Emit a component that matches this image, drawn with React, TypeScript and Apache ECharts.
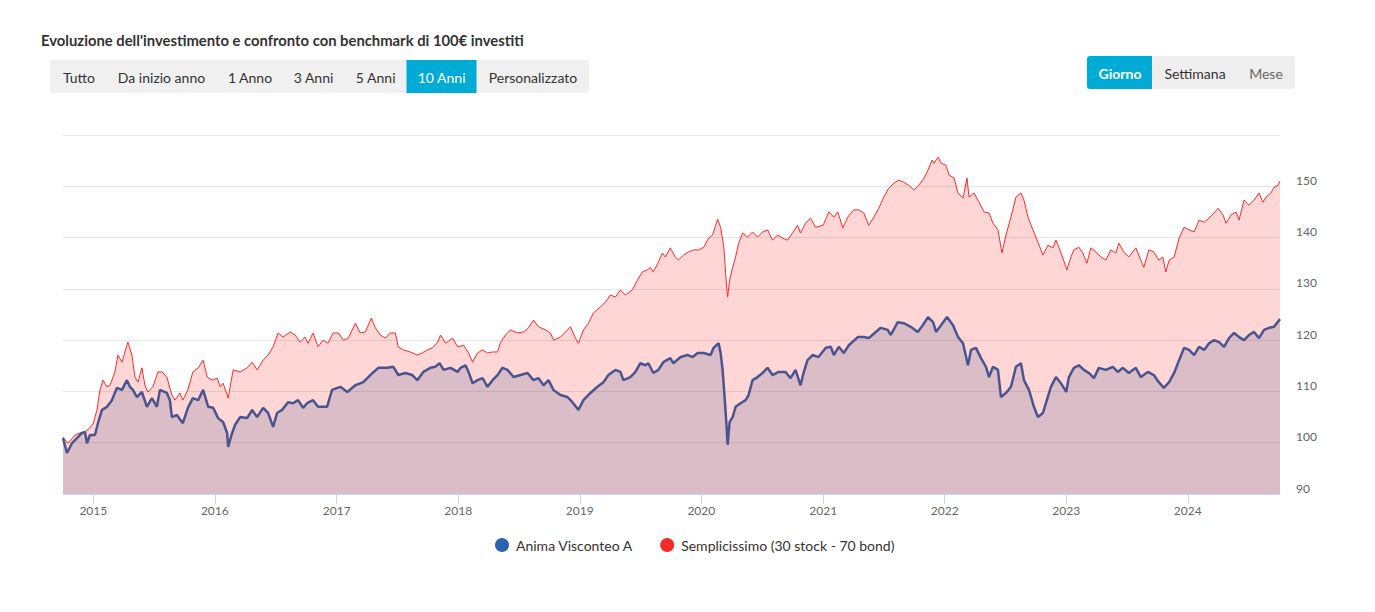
import React, { useEffect, useRef } from "react";
import * as echarts from "echarts";

const yearTicks = ["2015", "2016", "2017", "2018", "2019", "2020", "2021", "2022", "2023", "2024"];
const yTickValues = [90, 100, 110, 120, 130, 140, 150];

const rangeButtons = ["Tutto", "Da inizio anno", "1 Anno", "3 Anni", "5 Anni", "10 Anni", "Personalizzato"];
const activeRange = "10 Anni";
const periodButtons = ["Giorno", "Settimana", "Mese"];
const activePeriod = "Giorno";

const seriesNames = ["Anima Visconteo A", "Semplicissimo (30 stock - 70 bond)"];

const animaData: [string, number][] = [
  ["2014-10-02", 100.9], ["2014-10-14", 98.0], ["2014-10-29", 99.9], ["2014-11-13", 100.9], ["2014-11-28", 101.9],
  ["2014-12-07", 102.1], ["2014-12-13", 99.9], ["2014-12-22", 101.5],
  ["2015-01-06", 101.5], ["2015-01-15", 103.8], ["2015-01-27", 106.4], ["2015-02-11", 107.0], ["2015-02-26", 108.3],
  ["2015-03-13", 110.7], ["2015-03-28", 110.3], ["2015-04-12", 112.2], ["2015-04-21", 110.9], ["2015-04-30", 110.3],
  ["2015-05-12", 108.9], ["2015-05-27", 109.9], ["2015-06-11", 107.0], ["2015-06-26", 108.7], ["2015-07-11", 107.0],
  ["2015-07-20", 110.3], ["2015-08-10", 109.7], ["2015-08-19", 108.3], ["2015-08-25", 105.0], ["2015-09-09", 105.4],
  ["2015-09-27", 103.8], ["2015-10-12", 106.8], ["2015-10-27", 108.7], ["2015-11-12", 108.3], ["2015-11-27", 110.3],
  ["2015-12-12", 107.0], ["2015-12-27", 106.8],
  ["2016-01-11", 104.8], ["2016-01-26", 104.0], ["2016-02-07", 101.9], ["2016-02-10", 99.2], ["2016-02-22", 101.9],
  ["2016-03-02", 103.5], ["2016-03-17", 105.0], ["2016-04-07", 104.8], ["2016-04-22", 106.4], ["2016-05-07", 105.0],
  ["2016-05-25", 106.8], ["2016-06-09", 105.8], ["2016-06-24", 103.1], ["2016-07-06", 105.8], ["2016-07-21", 106.4],
  ["2016-08-08", 107.9], ["2016-08-23", 107.7], ["2016-09-07", 108.3], ["2016-09-22", 106.8], ["2016-10-04", 107.7],
  ["2016-10-22", 108.3], ["2016-11-06", 107.0], ["2016-12-03", 107.0], ["2016-12-18", 110.3],
  ["2017-01-12", 110.9], ["2017-02-02", 109.9], ["2017-02-26", 111.2], ["2017-03-22", 111.8], ["2017-04-12", 113.2],
  ["2017-05-06", 114.6], ["2017-06-02", 114.6], ["2017-06-20", 114.8], ["2017-07-05", 113.2], ["2017-07-26", 113.6],
  ["2017-08-16", 113.2], ["2017-08-31", 112.2], ["2017-09-18", 113.8], ["2017-10-09", 114.6], ["2017-10-24", 114.8],
  ["2017-11-06", 115.5], ["2017-11-18", 114.2], ["2017-12-09", 114.6], ["2017-12-30", 113.8],
  ["2018-01-08", 114.6], ["2018-01-23", 115.1], ["2018-02-01", 113.8], ["2018-02-13", 111.6], ["2018-02-28", 112.2],
  ["2018-03-15", 112.6], ["2018-03-30", 110.9], ["2018-04-14", 112.2], ["2018-04-29", 113.2], ["2018-05-14", 114.6],
  ["2018-05-29", 114.2], ["2018-06-16", 112.8], ["2018-07-07", 113.2], ["2018-07-28", 113.6], ["2018-08-15", 112.2],
  ["2018-08-30", 112.6], ["2018-09-14", 111.2], ["2018-09-29", 112.2], ["2018-10-14", 110.3], ["2018-11-04", 109.3],
  ["2018-11-25", 108.9], ["2018-12-10", 107.9], ["2018-12-28", 106.4],
  ["2019-01-12", 108.3], ["2019-02-02", 109.7], ["2019-02-23", 110.9], ["2019-03-13", 111.8], ["2019-03-28", 113.2],
  ["2019-04-18", 114.2], ["2019-05-03", 113.8], ["2019-05-12", 112.2], ["2019-06-02", 112.8], ["2019-06-17", 113.8],
  ["2019-07-02", 115.5], ["2019-07-17", 115.1], ["2019-07-26", 115.5], ["2019-08-10", 113.6], ["2019-08-25", 114.2],
  ["2019-09-09", 115.7], ["2019-09-30", 116.5], ["2019-10-09", 115.5], ["2019-10-31", 116.7], ["2019-11-21", 117.1],
  ["2019-12-06", 116.7], ["2019-12-21", 117.5],
  ["2020-01-08", 117.5], ["2020-01-29", 117.1], ["2020-02-07", 118.5], ["2020-02-22", 119.4], ["2020-02-28", 117.5],
  ["2020-03-05", 114.2], ["2020-03-11", 108.9], ["2020-03-17", 103.1], ["2020-03-20", 99.6], ["2020-03-26", 104.0],
  ["2020-04-04", 105.0], ["2020-04-13", 107.0], ["2020-04-28", 107.7], ["2020-05-13", 108.3], ["2020-05-22", 109.3],
  ["2020-06-03", 112.2], ["2020-06-18", 112.8], ["2020-07-03", 113.6], ["2020-07-18", 114.6], ["2020-08-02", 113.2],
  ["2020-08-20", 113.8], ["2020-09-10", 113.8], ["2020-09-25", 112.6], ["2020-10-10", 114.2], ["2020-10-25", 111.2],
  ["2020-11-03", 113.6], ["2020-11-15", 116.1], ["2020-11-30", 117.1], ["2020-12-18", 116.7],
  ["2021-01-09", 118.5], ["2021-01-24", 118.7], ["2021-02-02", 117.1], ["2021-02-17", 118.7], ["2021-03-04", 117.5],
  ["2021-03-19", 119.0], ["2021-04-15", 120.6], ["2021-05-03", 120.6], ["2021-05-18", 120.4], ["2021-06-08", 121.6],
  ["2021-06-23", 122.4], ["2021-07-14", 122.0], ["2021-07-23", 121.0], ["2021-08-13", 123.5], ["2021-08-31", 123.3],
  ["2021-09-21", 122.6], ["2021-10-12", 121.6], ["2021-10-27", 122.9], ["2021-11-12", 124.5], ["2021-11-27", 123.5],
  ["2021-12-06", 121.6], ["2021-12-21", 122.9],
  ["2022-01-08", 124.5], ["2022-01-26", 122.9], ["2022-02-10", 120.6], ["2022-02-25", 119.4], ["2022-03-12", 115.1],
  ["2022-03-21", 118.1], ["2022-04-05", 118.5], ["2022-04-20", 116.5], ["2022-05-05", 114.8], ["2022-05-14", 112.8],
  ["2022-05-26", 114.8], ["2022-06-10", 114.2], ["2022-06-19", 108.9], ["2022-07-04", 109.7], ["2022-07-19", 110.9],
  ["2022-08-03", 114.8], ["2022-08-18", 115.5], ["2022-08-27", 112.2], ["2022-09-11", 110.3], ["2022-09-26", 107.0],
  ["2022-10-08", 105.0], ["2022-10-23", 105.8], ["2022-11-01", 107.7], ["2022-11-16", 110.9], ["2022-12-01", 112.8],
  ["2022-12-16", 111.6],
  ["2023-01-01", 109.9], ["2023-01-09", 112.8], ["2023-01-24", 114.6], ["2023-02-08", 115.1], ["2023-02-23", 114.2],
  ["2023-03-10", 113.6], ["2023-03-25", 112.6], ["2023-04-09", 114.6], ["2023-04-30", 114.2], ["2023-05-21", 114.8],
  ["2023-06-05", 113.8], ["2023-06-20", 114.6], ["2023-07-08", 113.6], ["2023-07-29", 114.6], ["2023-08-13", 112.8],
  ["2023-09-03", 113.8], ["2023-09-21", 113.2], ["2023-10-06", 111.8], ["2023-10-21", 110.7], ["2023-11-06", 111.8],
  ["2023-11-21", 113.6], ["2023-12-06", 116.1], ["2023-12-21", 118.5],
  ["2024-01-05", 118.1], ["2024-01-20", 117.1], ["2024-02-04", 118.7], ["2024-02-19", 118.1], ["2024-03-05", 119.4],
  ["2024-03-20", 120.0], ["2024-04-04", 119.6], ["2024-04-19", 118.7], ["2024-05-04", 120.4], ["2024-05-19", 121.4],
  ["2024-06-03", 120.6], ["2024-06-18", 120.0], ["2024-07-03", 121.0], ["2024-07-18", 121.6], ["2024-08-02", 120.4],
  ["2024-08-17", 122.0], ["2024-09-01", 122.4], ["2024-09-16", 122.6], ["2024-10-04", 124.1],
];

const semplicissimoData: [string, number][] = [
  ["2014-10-02", 101.1], ["2014-10-17", 99.9], ["2014-11-07", 101.5], ["2014-11-22", 101.9], ["2014-12-07", 102.1],
  ["2014-12-22", 102.9],
  ["2015-01-01", 103.8], ["2015-01-12", 106.4], ["2015-01-21", 110.3], ["2015-01-30", 112.2], ["2015-02-11", 110.9],
  ["2015-02-20", 111.2], ["2015-03-07", 113.8], ["2015-03-16", 117.1], ["2015-03-28", 115.7], ["2015-04-12", 119.0],
  ["2015-04-15", 119.6], ["2015-04-27", 117.1], ["2015-05-06", 112.8], ["2015-05-15", 111.8], ["2015-05-27", 114.6],
  ["2015-06-05", 111.2], ["2015-06-14", 109.9], ["2015-06-29", 110.9], ["2015-07-14", 113.8], ["2015-07-26", 113.8],
  ["2015-08-10", 112.8], ["2015-08-25", 109.3], ["2015-09-03", 108.3], ["2015-09-18", 109.7], ["2015-09-27", 108.3],
  ["2015-10-12", 110.3], ["2015-10-27", 113.8], ["2015-11-12", 114.6], ["2015-11-27", 116.1], ["2015-12-09", 112.8],
  ["2015-12-24", 112.2],
  ["2016-01-08", 112.6], ["2016-01-17", 110.9], ["2016-01-26", 111.6], ["2016-02-10", 108.7], ["2016-02-25", 114.2],
  ["2016-03-17", 113.8], ["2016-04-07", 114.6], ["2016-04-22", 115.7], ["2016-05-07", 114.2], ["2016-05-25", 116.1],
  ["2016-06-09", 117.1], ["2016-06-24", 118.7], ["2016-07-09", 121.4], ["2016-07-24", 120.6], ["2016-08-14", 121.6],
  ["2016-08-29", 121.0], ["2016-09-13", 119.6], ["2016-09-28", 120.6], ["2016-10-07", 119.4], ["2016-10-22", 121.4],
  ["2016-11-06", 118.7], ["2016-11-21", 120.0], ["2016-12-06", 119.4], ["2016-12-21", 121.4],
  ["2017-01-06", 121.4], ["2017-01-21", 120.0], ["2017-02-05", 120.4], ["2017-02-26", 123.3], ["2017-03-13", 121.4],
  ["2017-03-28", 121.6], ["2017-04-15", 124.3], ["2017-04-27", 122.4], ["2017-05-12", 121.0], ["2017-05-27", 120.4],
  ["2017-06-11", 121.4], ["2017-06-26", 121.4], ["2017-07-05", 118.7], ["2017-07-20", 118.1], ["2017-08-10", 117.7],
  ["2017-08-31", 117.1], ["2017-09-15", 117.5], ["2017-09-30", 118.1], ["2017-10-15", 118.5], ["2017-10-31", 119.6],
  ["2017-11-09", 121.0], ["2017-11-24", 119.4], ["2017-12-15", 120.4], ["2017-12-30", 118.7],
  ["2018-01-17", 119.0], ["2018-02-01", 117.5], ["2018-02-13", 115.7], ["2018-02-28", 117.5], ["2018-03-15", 118.1],
  ["2018-03-30", 117.5], ["2018-04-14", 117.7], ["2018-04-29", 117.7], ["2018-05-08", 119.6], ["2018-05-23", 121.0],
  ["2018-06-07", 122.0], ["2018-06-28", 121.4], ["2018-07-16", 121.6], ["2018-07-31", 122.4], ["2018-08-15", 123.9],
  ["2018-08-30", 122.6], ["2018-09-20", 122.0], ["2018-10-05", 121.4], ["2018-10-14", 120.0], ["2018-11-04", 120.6],
  ["2018-11-19", 121.6], ["2018-12-04", 122.6], ["2018-12-19", 120.4], ["2018-12-28", 119.4],
  ["2019-01-12", 122.0], ["2019-01-27", 123.3], ["2019-02-11", 125.3], ["2019-03-04", 126.5], ["2019-03-19", 127.4],
  ["2019-04-03", 128.8], ["2019-04-18", 128.4], ["2019-05-03", 129.8], ["2019-05-18", 128.8], ["2019-06-08", 129.8],
  ["2019-06-23", 131.7], ["2019-07-08", 133.3], ["2019-07-23", 133.7], ["2019-08-01", 134.2], ["2019-08-10", 133.3],
  ["2019-08-25", 135.2], ["2019-09-06", 137.0], ["2019-09-15", 136.2], ["2019-09-30", 138.0], ["2019-10-15", 136.2],
  ["2019-10-24", 135.6], ["2019-11-09", 136.6], ["2019-11-24", 137.2], ["2019-12-09", 137.6], ["2019-12-24", 137.6],
  ["2020-01-08", 138.1], ["2020-01-23", 139.9], ["2020-02-04", 140.5], ["2020-02-19", 143.6], ["2020-02-28", 142.0],
  ["2020-03-08", 138.5], ["2020-03-11", 136.0], ["2020-03-17", 130.4], ["2020-03-20", 128.4], ["2020-03-26", 131.7],
  ["2020-04-04", 134.2], ["2020-04-13", 136.2], ["2020-04-22", 138.9], ["2020-05-04", 140.9], ["2020-05-19", 140.1],
  ["2020-06-03", 141.1], ["2020-06-18", 140.1], ["2020-07-03", 141.1], ["2020-07-18", 141.5], ["2020-08-02", 139.5],
  ["2020-08-17", 140.5], ["2020-09-01", 139.9], ["2020-09-16", 139.5], ["2020-10-01", 140.9], ["2020-10-16", 142.4],
  ["2020-10-25", 140.9], ["2020-11-09", 142.8], ["2020-11-24", 143.8], ["2020-12-09", 142.0],
  ["2021-01-01", 142.4], ["2021-01-18", 145.0], ["2021-02-02", 144.0], ["2021-02-14", 145.0], ["2021-03-01", 141.9],
  ["2021-03-16", 144.0], ["2021-04-03", 145.4], ["2021-04-18", 145.4], ["2021-05-03", 144.8], ["2021-05-18", 142.4],
  ["2021-06-02", 144.0], ["2021-06-17", 145.7], ["2021-07-02", 147.9], ["2021-07-17", 149.6], ["2021-08-01", 150.6],
  ["2021-08-16", 151.2], ["2021-08-31", 150.8], ["2021-09-15", 150.2], ["2021-09-30", 149.3], ["2021-10-15", 150.2],
  ["2021-10-31", 151.6], ["2021-11-12", 153.2], ["2021-11-24", 155.1], ["2021-11-30", 154.5], ["2021-12-12", 155.7],
  ["2021-12-21", 154.5],
  ["2022-01-05", 154.1], ["2022-01-14", 152.2], ["2022-01-29", 151.6], ["2022-02-10", 148.7], ["2022-02-25", 147.7],
  ["2022-03-09", 151.6], ["2022-03-15", 147.9], ["2022-03-30", 148.7], ["2022-04-14", 146.9], ["2022-04-29", 145.0],
  ["2022-05-14", 144.8], ["2022-05-26", 142.8], ["2022-06-10", 141.5], ["2022-06-22", 137.0], ["2022-07-04", 140.5],
  ["2022-07-19", 144.0], ["2022-08-03", 147.9], ["2022-08-18", 148.7], ["2022-08-27", 147.3], ["2022-09-08", 144.0],
  ["2022-09-23", 141.5], ["2022-10-08", 139.1], ["2022-10-23", 136.6], ["2022-11-07", 138.5], ["2022-11-22", 138.0],
  ["2022-12-01", 139.5], ["2022-12-10", 138.1], ["2022-12-22", 136.0],
  ["2023-01-03", 133.7], ["2023-01-15", 136.2], ["2023-01-24", 137.6], ["2023-02-08", 138.1], ["2023-02-20", 137.0],
  ["2023-03-04", 135.0], ["2023-03-16", 138.0], ["2023-03-31", 137.2], ["2023-04-15", 136.2], ["2023-04-30", 135.6],
  ["2023-05-15", 137.6], ["2023-05-30", 137.0], ["2023-06-08", 138.9], ["2023-06-23", 137.2], ["2023-07-08", 136.2],
  ["2023-07-29", 138.0], ["2023-08-13", 135.6], ["2023-08-22", 134.2], ["2023-09-06", 137.6], ["2023-09-21", 137.2],
  ["2023-10-06", 135.6], ["2023-10-18", 136.2], ["2023-10-27", 133.3], ["2023-11-06", 135.6], ["2023-11-21", 136.2],
  ["2023-12-06", 139.9], ["2023-12-21", 142.0],
  ["2024-01-05", 141.5], ["2024-01-20", 141.1], ["2024-02-04", 143.4], ["2024-02-19", 143.0], ["2024-03-05", 143.8],
  ["2024-03-20", 144.8], ["2024-04-01", 145.7], ["2024-04-16", 144.4], ["2024-04-25", 142.8], ["2024-05-10", 144.4],
  ["2024-05-25", 145.0], ["2024-06-03", 143.4], ["2024-06-18", 147.3], ["2024-07-03", 146.3], ["2024-07-18", 147.3],
  ["2024-08-02", 148.7], ["2024-08-14", 146.9], ["2024-08-23", 147.9], ["2024-09-07", 148.7], ["2024-09-16", 149.8],
  ["2024-09-28", 150.2], ["2024-10-04", 151.0],
];

const FONT = "Lato, 'Noto Sans', sans-serif";

const toTs = (d: string) => Date.parse(`${d}T00:00:00Z`);

export default function App() {
  const ref = useRef<HTMLDivElement>(null);

  useEffect(() => {
    if (!ref.current) return;
    const chart = echarts.init(ref.current, undefined, { renderer: "svg" });

    const rangeCenters = [79, 161.5, 250, 313.5, 375.7, 441.6, 533];
    const periodCenters = [1120, 1195, 1266];

    const graphic: any[] = [
      {
        type: "text",
        x: 41,
        y: 40,
        style: {
          text: "Evoluzione dell'investimento e confronto con benchmark di 100€ investiti",
          font: `bold 14.8px ${FONT}`,
          fill: "#333333",
          verticalAlign: "middle",
          align: "left",
        },
      },
      { type: "rect", shape: { x: 50, y: 60, width: 539, height: 33, r: 3 }, style: { fill: "#f0f0f0" } },
      { type: "rect", shape: { x: 406.5, y: 60, width: 70, height: 33, r: 0 }, style: { fill: "#00acd5" } },
      ...rangeButtons.map((t, i) => ({
        type: "text",
        x: rangeCenters[i],
        y: 77,
        style: {
          text: t,
          font: `14px ${FONT}`,
          fill: t === activeRange ? "#ffffff" : "#333333",
          align: "center",
          verticalAlign: "middle",
        },
      })),
      { type: "rect", shape: { x: 1087, y: 56, width: 208, height: 33, r: 3 }, style: { fill: "#eeeeee" } },
      { type: "rect", shape: { x: 1087, y: 56, width: 65, height: 33, r: [3, 0, 0, 3] }, style: { fill: "#00acd5" } },
      ...periodButtons.map((t, i) => ({
        type: "text",
        x: periodCenters[i],
        y: 73,
        style: {
          text: t,
          font: `${t === activePeriod ? "bold " : ""}14px ${FONT}`,
          fill: t === activePeriod ? "#ffffff" : t === "Mese" ? "#666666" : "#333333",
          align: "center",
          verticalAlign: "middle",
        },
      })),
    ];

    const yearStarts = yearTicks.map((y) => toTs(`${y}-01-01`));

    chart.setOption({
      animation: false,
      backgroundColor: "#ffffff",
      textStyle: { fontFamily: FONT },
      graphic,
      grid: { left: 63, right: 95, top: 135, bottom: 118, containLabel: false },
      legend: {
        left: 495,
        top: 538,
        icon: "circle",
        itemWidth: 14,
        itemHeight: 14,
        itemGap: 27,
        padding: 0,
        textStyle: { fontSize: 14, color: "#333333", fontFamily: FONT, padding: [0, 0, 0, 2] },
        data: [
          { name: seriesNames[0], itemStyle: { color: "#2c62ab" } },
          { name: seriesNames[1], itemStyle: { color: "#f52a2a" } },
        ],
      },
      xAxis: {
        type: "value",
        min: toTs(semplicissimoData[0][0]),
        max: toTs(semplicissimoData[semplicissimoData.length - 1][0]),
        axisLine: { show: true, lineStyle: { color: "#ccd6eb", width: 1 } },
        axisTick: {
          show: true,
          length: 10,
          lineStyle: { color: "#ccd6eb" },
          customValues: yearStarts,
        },
        axisLabel: {
          color: "#666666",
          fontSize: 12,
          margin: 10,
          fontFamily: FONT,
          customValues: yearStarts,
          formatter: (v: number) => String(new Date(v).getUTCFullYear()),
        },
        splitLine: { show: false },
      },
      yAxis: {
        type: "value",
        position: "right",
        min: 90,
        max: 160,
        interval: 10,
        axisLine: { show: false },
        axisTick: { show: false },
        splitLine: { show: true, lineStyle: { color: "#e6e6e6", width: 1 } },
        axisLabel: {
          color: "#666666",
          fontSize: 12,
          margin: 16,
          fontFamily: FONT,
          verticalAlign: "bottom",
          formatter: (v: number) => (yTickValues.includes(v) ? String(v) : ""),
        },
      },
      series: [
        {
          name: seriesNames[0],
          type: "line",
          data: animaData.map(([d, v]) => [toTs(d), v]),
          showSymbol: false,
          symbol: "none",
          z: 3,
          lineStyle: { color: "#4a5590", width: 2.5 },
          itemStyle: { color: "#4a5590" },
          areaStyle: { color: "rgba(75,88,138,0.2)", opacity: 1, origin: "start" },
        },
        {
          name: seriesNames[1],
          type: "line",
          data: semplicissimoData.map(([d, v]) => [toTs(d), v]),
          showSymbol: false,
          symbol: "none",
          z: 2,
          lineStyle: { color: "#fa2b2b", width: 1 },
          itemStyle: { color: "#fa2b2b" },
          areaStyle: { color: "rgba(255,30,30,0.18)", opacity: 1, origin: "start" },
        },
      ],
    });

    return () => chart.dispose();
  }, []);

  return (
    <div style={{ position: "fixed", left: 0, top: 0, width: 1375, height: 612, background: "#fff" }}>
      <div ref={ref} style={{ width: 1375, height: 612 }} />
    </div>
  );
}
